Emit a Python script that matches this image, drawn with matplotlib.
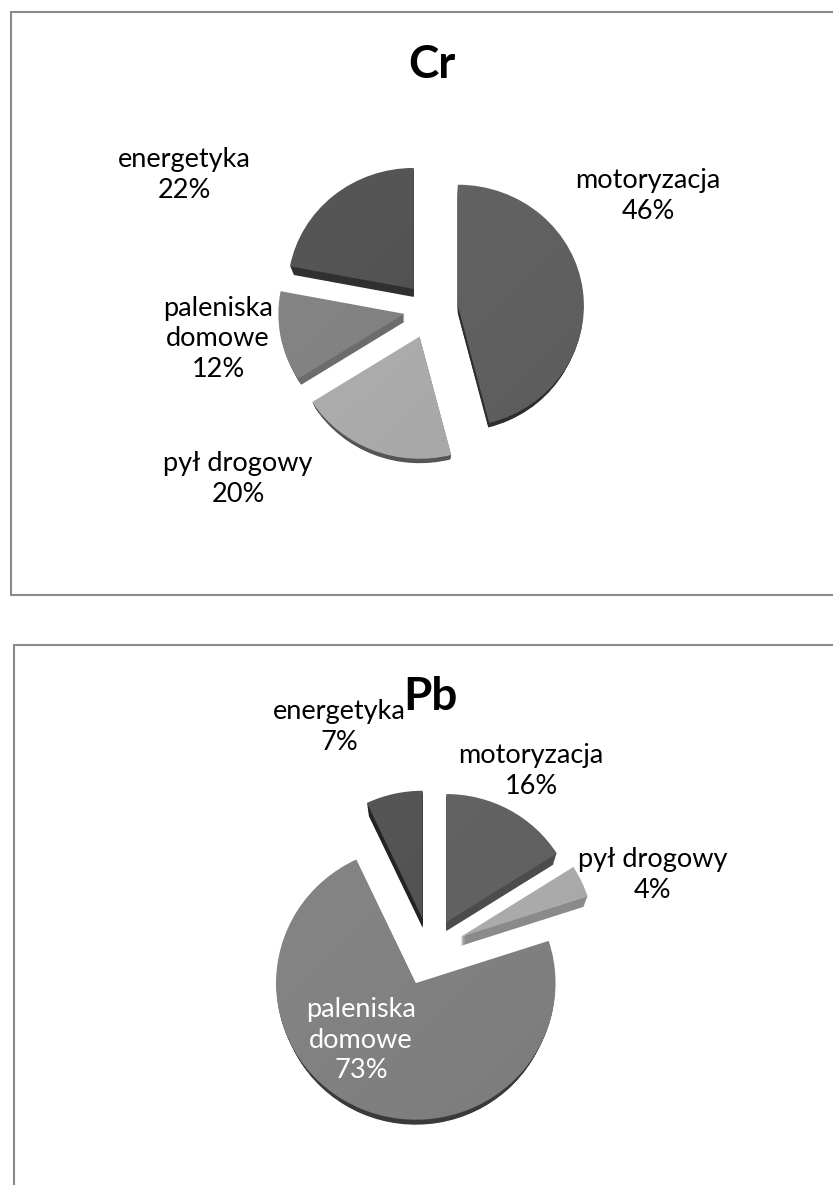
import matplotlib
matplotlib.use("Agg")
import matplotlib.pyplot as plt
import numpy as np
from matplotlib.lines import Line2D

plt.rcParams["font.family"] = ["Lato", "DejaVu Sans"]

W, H = 833, 1185

categories = ["motoryzacja", "pył drogowy", "paleniska\ndomowe", "energetyka"]
values_cr = [46, 20, 12, 22]
values_pb = [16, 4, 73, 7]

face_grays = [0.38, 0.67, 0.505, 0.32]
sides_cr = ["#2e2e2e", "#555555", "#6c6c6c", "#303030"]
sides_pb = ["#4c4c4c", "#8a8a8a", "#3a3a3a", "#242424"]

labels_pos_cr = [(648, 196), (238, 479), (218, 339), (184, 175)]
labels_pos_pb = [(531, 771), (653, 875), (361, 1040), (339, 727)]


def fx(x):
    return x / W


def fy(y):
    return 1 - y / H


def draw_pie(values, sides, center, rx, ry, explode, radii, depth):
    # one axes per pie, squashed a bit so it looks tilted
    lim = 1.6
    cx, cy = center
    ax = fig.add_axes([fx(cx - lim * rx), fy(cy + lim * ry), 2 * lim * rx / W, 2 * lim * ry / H])
    # side of the slices, stack of darker copies, pulled in so the rim stays thin
    for d in np.arange(depth, 0, -1.0):
        side, _ = ax.pie(values, explode=explode, colors=sides, startangle=90, counterclock=False,
                         center=(0, -d / ry), radius=1)
        for w, r in zip(side, radii):
            w.set_radius(r - 0.45 * d / ry)
    wedges, _ = ax.pie(values, explode=explode, colors=["none"] * 4, startangle=90,
                       counterclock=False, center=(0, 0), radius=1)
    # soft diagonal shading on the top face
    gx, gy = np.meshgrid(np.linspace(-1, 1, 64), np.linspace(1, -1, 64))
    for w, g, r in zip(wedges, face_grays, radii):
        w.set_radius(r)
        shade = g + 0.03 * (gy - gx) / 2
        im = ax.imshow(shade, cmap="gray", vmin=0, vmax=1, extent=(-1.6, 1.6, -1.6, 1.6),
                       aspect="auto", interpolation="bilinear", zorder=3)
        im.set_clip_path(w)
    ax.set_aspect("auto")
    ax.set_xlim(-lim, lim)
    ax.set_ylim(-lim, lim)
    ax.axis("off")


def put_labels(values, positions, colors=None):
    for i, (cat, val, (x, y)) in enumerate(zip(categories, values, positions)):
        c = colors[i] if colors else "black"
        fig.text(fx(x), fy(y), f"{cat}\n{val}%", ha="center", va="center", fontsize=19.5,
                 color=c, linespacing=1.26)


fig = plt.figure(figsize=(W / 100, H / 100), dpi=100, facecolor="white")

# frames of the two charts, both cut by the page
frame = "#8a8a8a"
for xs, ys in [([833, 11, 11, 833], [12, 12, 595, 595]), ([14, 14, 833], [1185, 645, 645])]:
    fig.add_artist(Line2D([fx(v) for v in xs], [fy(v) for v in ys], color=frame, lw=1.5,
                          solid_joinstyle="miter"))

draw_pie(values_cr, sides_cr, (431, 309), 126, 121, [0.215, 0.245, 0.215, 0.215],
         [1, 1.01, 1, 1], 8)
draw_pie(values_pb, sides_pb, (430, 951), 135, 132, [0.25, 0.25, 0.265, 0.25],
         [0.97, 0.99, 1.035, 0.97], 9)

put_labels(values_cr, labels_pos_cr)
put_labels(values_pb, labels_pos_pb, ["black", "black", "white", "black"])

fig.text(fx(432), fy(65), "Cr", ha="center", va="center", fontsize=33, fontweight="bold")
fig.text(fx(430), fy(697), "Pb", ha="center", va="center", fontsize=33, fontweight="bold")

fig.savefig("out.png", dpi=100)
